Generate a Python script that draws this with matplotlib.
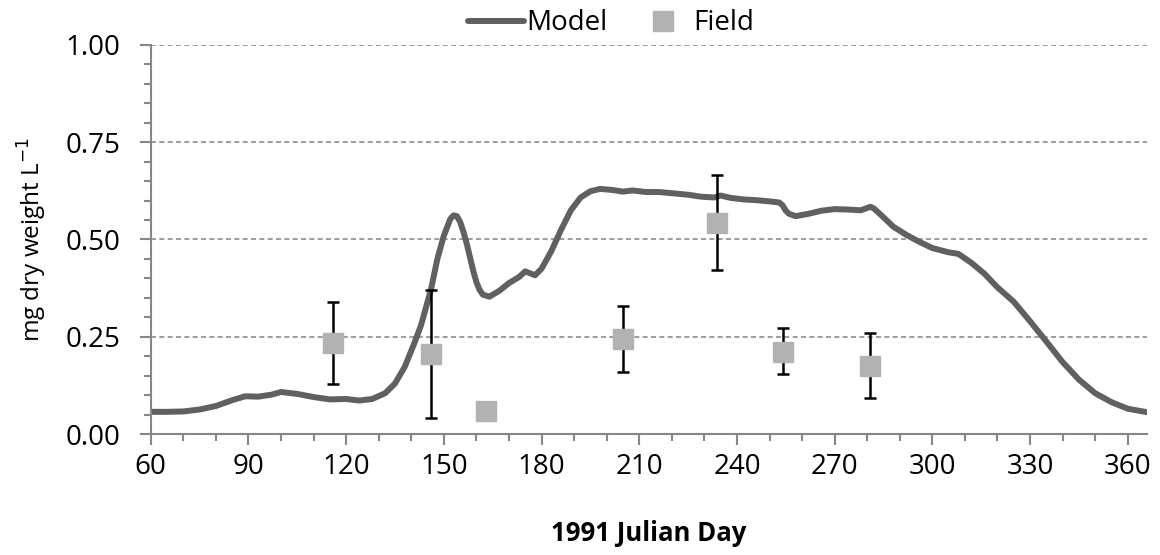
import matplotlib.pyplot as plt
from matplotlib.ticker import MultipleLocator

# model curve
model_day = [60, 65, 70, 75, 80, 85, 89, 93, 97, 100, 105, 110, 115, 120, 124, 128,
             132, 135, 138, 141, 143, 146, 148, 150, 152, 153, 154, 155, 156, 157,
             158, 159, 160, 161, 162, 164, 167, 170, 173, 175, 178, 180, 183, 186,
             189, 192, 195, 198, 202, 205, 208, 212, 216, 220, 225, 229, 233, 235,
             238, 242, 246, 250, 253, 254, 255, 256, 258, 262, 266, 270, 274, 278,
             280, 281, 282, 284, 288, 292, 296, 300, 305, 308, 312, 316, 320, 325,
             330, 335, 340, 345, 350, 355, 360, 366]
model_val = [0.057, 0.057, 0.058, 0.063, 0.072, 0.087, 0.097, 0.096, 0.101, 0.108,
             0.103, 0.095, 0.089, 0.090, 0.086, 0.090, 0.105, 0.130, 0.173, 0.235,
             0.280, 0.370, 0.450, 0.510, 0.553, 0.562, 0.560, 0.545, 0.520, 0.490,
             0.455, 0.420, 0.390, 0.370, 0.358, 0.353, 0.368, 0.388, 0.403, 0.418,
             0.408, 0.425, 0.470, 0.525, 0.575, 0.608, 0.624, 0.630, 0.627, 0.623,
             0.626, 0.622, 0.622, 0.619, 0.615, 0.610, 0.608, 0.613, 0.607, 0.603,
             0.601, 0.598, 0.595, 0.588, 0.574, 0.566, 0.560, 0.566, 0.574, 0.578,
             0.577, 0.575, 0.581, 0.584, 0.580, 0.565, 0.533, 0.512, 0.494, 0.478,
             0.467, 0.463, 0.440, 0.412, 0.377, 0.340, 0.290, 0.238, 0.185, 0.140,
             0.105, 0.082, 0.065, 0.056]

# field observations
field_day = [116, 146, 163, 205, 234, 254, 281]
field_val = [0.234, 0.206, 0.059, 0.243, 0.543, 0.212, 0.176]
field_hi = [0.339, 0.370, 0.059, 0.328, 0.666, 0.272, 0.260]
field_lo = [0.128, 0.040, 0.059, 0.159, 0.421, 0.153, 0.092]

plt.rcParams['font.family'] = ['Open Sans', 'DejaVu Sans']

fig = plt.figure(figsize=(11.6, 5.55), dpi=100)
ax = fig.add_axes([0.13, 0.218, 0.859, 0.701])

err_lo = [v - l for v, l in zip(field_val, field_lo)]
err_hi = [h - v for v, h in zip(field_val, field_hi)]

ax.errorbar(field_day, field_val, yerr=[err_lo, err_hi], fmt='none', ecolor='black',
            elinewidth=1.8, capsize=4.5, capthick=1.8, zorder=3)
ax.plot(model_day, model_val, color='#606060', lw=4.3, solid_capstyle='round',
        solid_joinstyle='round', zorder=2, label='Model')
ax.plot(field_day, field_val, 's', color='#b2b2b2', markersize=14.5, zorder=4,
        linestyle='none', label='Field')

ax.set_xlim(60, 366)
ax.set_ylim(0, 1.0)
ax.xaxis.set_major_locator(MultipleLocator(30))
ax.xaxis.set_minor_locator(MultipleLocator(10))
ax.yaxis.set_major_locator(MultipleLocator(0.25))
ax.yaxis.set_minor_locator(MultipleLocator(0.05))
ax.yaxis.set_major_formatter(plt.FormatStrFormatter('%.2f'))

ax.grid(axis='y', which='major', color='#8c8c8c', linestyle=(0, (3, 2)), lw=1.2)
ax.set_axisbelow(True)
for s in ['top', 'right']:
    ax.spines[s].set_visible(False)
for s in ['left', 'bottom']:
    ax.spines[s].set_color('#868686')
    ax.spines[s].set_linewidth(1.5)

ax.tick_params(which='major', length=8, width=1.5, color='#868686', labelsize=20)
ax.tick_params(axis='y', which='major', pad=14)
ax.tick_params(axis='x', which='major', pad=6)
ax.tick_params(which='minor', length=5, width=1.5, color='#868686')

ax.set_ylabel('mg dry weight L$^{-1}$', fontsize=17.5, labelpad=12)
ax.set_xlabel('1991 Julian Day', fontsize=18.5, fontweight='bold', labelpad=28)

fig.legend(loc='center', bbox_to_anchor=(0.527, 0.958), ncol=2, frameon=False,
           fontsize=20, handlelength=2.0, handletextpad=0.1, columnspacing=1.0)

fig.savefig('out.png', dpi=100)
